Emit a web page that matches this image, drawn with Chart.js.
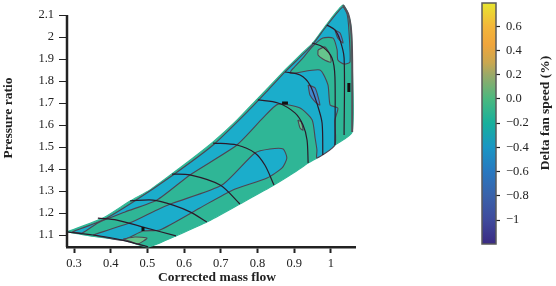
<!DOCTYPE html>
<html>
<head>
<meta charset="utf-8">
<style>
  html, body { margin: 0; padding: 0; background: #fff; overflow: hidden; }
  #mapCanvas { position: absolute; left: 0; top: 0; }
  #barCanvas { position: absolute; left: 460px; top: 0; }
</style>
</head>
<body>
<canvas id="mapCanvas" width="400" height="286"></canvas>
<canvas id="barCanvas" width="96" height="250"></canvas>
<script src="https://cdn.jsdelivr.net/npm/chart.js@4/dist/chart.umd.min.js"></script>
<script>
// axis ticks
const xTicks = [0.3, 0.4, 0.5, 0.6, 0.7, 0.8, 0.9, 1];
const xTickLabels = ['0.3', '0.4', '0.5', '0.6', '0.7', '0.8', '0.9', '1'];
const yTicks = [1.1, 1.2, 1.3, 1.4, 1.5, 1.6, 1.7, 1.8, 1.9, 2, 2.1];
const yTickLabels = ['1.1', '1.2', '1.3', '1.4', '1.5', '1.6', '1.7', '1.8', '1.9', '2', '2.1'];
const barTicks = [-1, -0.8, -0.6, -0.4, -0.2, 0, 0.2, 0.4, 0.6];
const barTickLabels = ['\u22121', '\u22120.8', '\u22120.6', '\u22120.4', '\u22120.2', '0.0', '0.2', '0.4', '0.6'];

// colour bar levels, low to high
const barLevels = [-1.2, -1, -0.8, -0.6, -0.4, -0.2, 0, 0.2, 0.3, 0.45, 0.6, 0.79];
const barColors = ['#3a2a82', '#3f4a9c', '#3a62aa', '#2878c0', '#1a96c4', '#17b09c', '#4ab87f', '#9aa968', '#c9a750', '#f0a53c', '#f3b63a', '#e8e52e'];

// map outline and filled contour bands: [mass flow, pressure ratio]
const mapOutline = [[.281,1.114],[.379,1.177],[.453,1.255],[.507,1.305],[.570,1.382],[.624,1.450],[.679,1.523],[.739,1.614],[.799,1.718],
  [.875,1.850],[.916,1.918],[.951,1.973],[.989,2.059],[1.033,2.145],[1.047,2.105],[1.055,2.045],[1.058,1.895],[1.058,1.568],[1.011,1.509],
  [.962,1.450],[.938,1.427],[.902,1.386],[.845,1.327],[.752,1.241],[.662,1.159],[.578,1.096],[.534,1.064],[.502,1.046],[.488,1.050],
  [.431,1.077],[.344,1.096],[.281,1.114]];
const upperBand = [[.295,1.114],[.379,1.168],[.461,1.250],[.570,1.373],[.679,1.509],[.780,1.673],[.829,1.759],[.875,1.841],[.916,1.909],
  [.951,1.968],[.984,2.041],[1.019,2.114],[1.033,2.136],[1.044,2.105],[1.049,2.032],[1.052,1.886],[1.036,1.877],[1.019,1.895],[1.017,1.941],
  [1.006,1.995],[.978,1.995],[.949,1.955],[.924,1.905],[.889,1.836],[.970,1.850],[.992,1.782],[.998,1.691],[1.019,1.677],[1.011,1.623],
  [1.011,1.509],[.962,1.450],[.962,1.486],[.957,1.541],[.949,1.623],[.916,1.677],[.856,1.695],[.815,1.632],[.744,1.509],[.616,1.373],
  [.526,1.259],[.439,1.205],[.365,1.155],[.322,1.109],[.295,1.114]];
const lowerBand = [[.352,1.100],[.458,1.159],[.526,1.214],[.570,1.245],[.703,1.327],[.793,1.473],[.834,1.491],[.870,1.491],[.880,1.450],
  [.867,1.405],[.826,1.359],[.733,1.305],[.643,1.223],[.534,1.123],[.488,1.118],[.431,1.077],[.352,1.100]];
const darkLobeTop = [[1.011,2.032],[1.025,2.018],[1.033,1.973],[1.019,1.995],[1.011,2.032]];
const darkLobeMid = [[.938,1.782],[.957,1.768],[.970,1.691],[.957,1.705],[.943,1.736],[.938,1.782]];
const lightLobeTop = [[.965,1.941],[.984,1.955],[.998,1.918],[1.000,1.886],[.978,1.900],[.965,1.918],[.965,1.941]];
const lightLobeMid = [[.910,1.623],[.919,1.614],[.924,1.577],[.916,1.586],[.910,1.623]];
const lightLobeLow = [[.434,1.082],[.466,1.091],[.499,1.086],[.474,1.059],[.458,1.068],[.434,1.082]];

// constant speed lines, low to high
const speedLines = [
  [[.281,1.114],[.352,1.100],[.431,1.077],[.502,1.046]],
  [[.365,1.177],[.417,1.168],[.488,1.136],[.578,1.096]],
  [[.453,1.255],[.515,1.259],[.570,1.236],[.616,1.205],[.662,1.159]],
  [[.567,1.377],[.616,1.373],[.698,1.327],[.752,1.241]],
  [[.679,1.518],[.744,1.509],[.793,1.473],[.820,1.418],[.845,1.327]],
  [[.801,1.714],[.856,1.700],[.902,1.655],[.924,1.600],[.935,1.532],[.938,1.427]],
  [[.875,1.841],[.916,1.827],[.943,1.782],[.965,1.682],[.976,1.609],[.978,1.464]],
  [[.949,1.973],[.978,1.955],[1.003,1.905],[1.011,1.818],[1.011,1.509]],
  [[.989,2.055],[1.011,2.032],[1.025,1.986],[1.036,1.905],[1.036,1.555]],
  [[1.033,2.145],[1.047,2.105],[1.055,2.032],[1.058,1.895],[1.058,1.568]]
];
const shortMarks = [
  [[.867,1.700],[.883,1.700]],
  [[1.049,1.791],[1.049,1.750]],
  [[.488,1.136],[.488,1.118]]
];

const xMin = 0.2809, xMax = 1.0657;
const yMin = 1.0455, yTop = 2.15;
const yAxisEnd = 2.1;

const inkColor = '#222222';
const contourColor = '#4e4552';
const speedColor = '#2b1a2a';
const tealColor = '#2fb696';
const blueColor = '#1badcb';
const lightGreen = '#66c48c';
const deepBlue = '#4088cf';
const tickFont = { family: 'Liberation Serif', size: 12.5 };

function toPoints(list) {
  return list.map(p => ({ x: p[0], y: p[1] }));
}

function region(list, color, borderColor) {
  return {
    data: toPoints(list),
    showLine: true,
    fill: 'shape',
    backgroundColor: color,
    borderColor: borderColor,
    borderWidth: 1.1,
    tension: 0.2,
    capBezierPoints: false,
    pointRadius: 0,
    clip: false
  };
}

function stroke(list, color, width, tension) {
  return {
    data: toPoints(list),
    showLine: true,
    fill: false,
    borderColor: color,
    borderWidth: width,
    tension: tension,
    capBezierPoints: false,
    pointRadius: 0,
    clip: false
  };
}

// titles that the scales cannot place or turn by themselves
function placedTitle(text, x, y, angle) {
  return {
    id: 'placedTitle',
    afterDraw(chart) {
      const ctx = chart.ctx;
      ctx.save();
      ctx.translate(x, y);
      ctx.rotate(angle);
      ctx.font = 'bold 13.5px "Liberation Serif"';
      ctx.fillStyle = inkColor;
      ctx.textAlign = 'center';
      ctx.textBaseline = 'middle';
      ctx.fillText(text, 0, 0);
      ctx.restore();
    }
  };
}

const barFrame = {
  id: 'barFrame',
  afterDatasetsDraw(chart) {
    const a = chart.chartArea;
    const ctx = chart.ctx;
    ctx.save();
    ctx.strokeStyle = '#5a5a5a';
    ctx.lineWidth = 1.5;
    ctx.strokeRect(a.left, a.top, a.right - a.left, a.bottom - a.top);
    ctx.restore();
  }
};

function barGradient(context) {
  const chart = context.chart;
  if (!chart.chartArea) return barColors[0];
  const y = chart.scales.y;
  const low = barLevels[0], high = barLevels[barLevels.length - 1];
  const g = chart.ctx.createLinearGradient(0, y.getPixelForValue(low), 0, y.getPixelForValue(high));
  barLevels.forEach((v, i) => g.addColorStop((v - low) / (high - low), barColors[i]));
  return g;
}

// first dataset ends up on top
const mapDatasets = [];
shortMarks.forEach(m => mapDatasets.push(stroke(m, '#111111', 3, 0)));
mapDatasets.push(stroke([[xMin, yMin], [xMin, yAxisEnd]], inkColor, 2.5, 0));
speedLines.forEach((s, i) => mapDatasets.push(stroke(s, i === 9 ? '#55525a' : speedColor, i === 9 ? 2 : 1.2, 0.3)));
[lightLobeLow, lightLobeMid, lightLobeTop].forEach(l => mapDatasets.push(region(l, lightGreen, contourColor)));
[darkLobeMid, darkLobeTop].forEach(l => mapDatasets.push(region(l, deepBlue, contourColor)));
mapDatasets.push(region(lowerBand, blueColor, contourColor));
mapDatasets.push(region(upperBand, blueColor, contourColor));
mapDatasets.push(region(mapOutline, tealColor, tealColor));

new Chart(document.getElementById('mapCanvas'), {
  type: 'scatter',
  data: { datasets: mapDatasets },
  options: {
    responsive: false,
    animation: false,
    layout: { padding: { top: 4, right: 45, left: 0, bottom: 0 } },
    plugins: { legend: { display: false }, tooltip: { enabled: false } },
    scales: {
      x: {
        type: 'linear',
        min: xMin,
        max: xMax,
        afterBuildTicks: s => { s.ticks = xTicks.map(v => ({ value: v })); },
        afterFit: s => { s.height = 39; },
        border: { color: inkColor, width: 2.5 },
        grid: { drawOnChartArea: false, tickLength: 6, tickWidth: 2, tickColor: inkColor },
        ticks: {
          autoSkip: false, maxRotation: 0, color: inkColor, font: tickFont, padding: 3,
          callback: v => xTickLabels[xTicks.indexOf(v)]
        }
      },
      y: {
        type: 'linear',
        min: yMin,
        max: yTop,
        afterBuildTicks: s => { s.ticks = yTicks.map(v => ({ value: v })); },
        afterFit: s => { s.width = 67; s.paddingTop = 0; s.paddingBottom = 0; },
        border: { display: false },
        grid: { drawOnChartArea: false, tickLength: 8, tickWidth: 1, tickColor: inkColor },
        ticks: {
          autoSkip: false, color: inkColor, font: tickFont, padding: 5,
          callback: v => yTickLabels[yTicks.indexOf(v)]
        }
      }
    }
  },
  plugins: [
    placedTitle('Pressure ratio', 9, 118, -Math.PI / 2),
    placedTitle('Corrected mass flow', 217, 278, 0)
  ]
});

new Chart(document.getElementById('barCanvas'), {
  type: 'bar',
  data: {
    labels: ['speed'],
    datasets: [{
      data: [[barLevels[0], barLevels[barLevels.length - 1]]],
      backgroundColor: barGradient,
      barPercentage: 1,
      categoryPercentage: 1
    }]
  },
  options: {
    responsive: false,
    animation: false,
    layout: { padding: { left: 22, top: 3, bottom: 6, right: 0 } },
    plugins: { legend: { display: false }, tooltip: { enabled: false } },
    scales: {
      x: { display: false },
      y: {
        position: 'right',
        min: -1.198,
        max: 0.793,
        afterBuildTicks: s => { s.ticks = barTicks.map(v => ({ value: v })); },
        afterFit: s => { s.width = 60; s.paddingTop = 0; s.paddingBottom = 0; },
        border: { display: false },
        grid: { drawOnChartArea: false, tickLength: 4, tickWidth: 1.2, tickColor: inkColor },
        ticks: {
          autoSkip: false, color: inkColor, font: tickFont, padding: 6,
          callback: v => barTickLabels[barTicks.indexOf(v)]
        }
      }
    }
  },
  plugins: [barFrame, placedTitle('Delta fan speed (%)', 86, 113, -Math.PI / 2)]
});
</script>
</body>
</html>
